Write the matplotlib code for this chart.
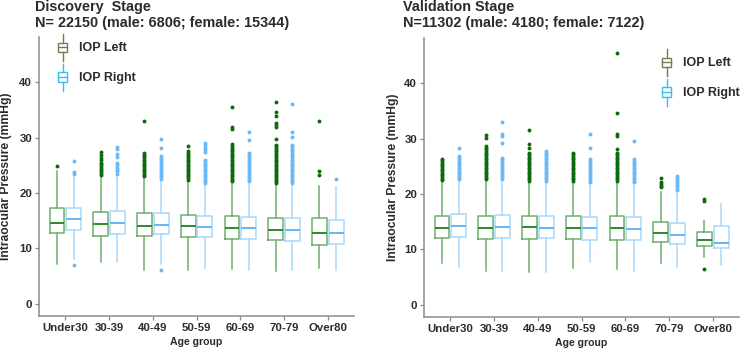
import matplotlib
matplotlib.use("Agg")
import matplotlib.pyplot as plt
from matplotlib.legend_handler import HandlerBase
from matplotlib.patches import Rectangle
from matplotlib.lines import Line2D

plt.rcParams['font.family'] = ['Liberation Sans', 'DejaVu Sans']
plt.rcParams['font.weight'] = 'bold'

age_groups = ['Under30', '30-39', '40-49', '50-59', '60-69', '70-79', 'Over80']

# Discovery stage, box statistics (mmHg)
disc_left_q1 = [12.8, 12.3, 12.2, 12.0, 11.7, 11.4, 10.5]
disc_left_med = [14.5, 14.3, 14.1, 14.0, 13.7, 13.3, 12.8]
disc_left_q3 = [17.3, 16.6, 16.4, 16.1, 15.8, 15.5, 15.4]
disc_left_lo = [7.1, 7.5, 6.0, 6.1, 6.3, 5.8, 6.4]
disc_left_hi = [24.0, 23.0, 22.7, 22.2, 21.9, 21.6, 21.3]
disc_left_out = [
    [24.9],
    [27.4, 26.8, 26.3, 25.9, 25.5, 25.2, 24.8, 24.5, 24.2, 23.9, 23.6, 23.3],
    [33.0, 27.2, 26.9, 26.6, 26.3, 26.0, 25.7, 25.4, 25.1, 24.8, 24.5, 24.2,
     23.9, 23.6, 23.3, 23.0],
    [28.5, 27.5, 27.2, 26.9, 26.6, 26.3, 26.0, 25.7, 25.4, 25.1, 24.8, 24.5,
     24.2, 23.9, 23.6, 23.3, 23.0, 22.7, 22.4],
    [35.5, 32.0, 31.5, 28.9, 28.4, 28.1, 27.8, 27.5, 27.2, 26.9, 26.6, 26.3,
     26.0, 25.7, 25.4, 25.1, 24.8, 24.5, 24.2, 23.9, 23.6, 23.3, 23.0, 22.7,
     22.4, 22.1],
    [36.5, 34.6, 34.0, 32.6, 32.2, 31.9, 29.7, 28.7, 28.4, 28.1, 27.8, 27.5,
     27.2, 26.9, 26.6, 26.3, 26.0, 25.7, 25.4, 25.1, 24.8, 24.5, 24.2, 23.9,
     23.6, 23.3, 23.0, 22.7, 22.4, 22.1, 21.8],
    [33.0, 23.9, 23.3],
]

disc_right_q1 = [13.3, 12.5, 12.5, 12.0, 11.7, 11.3, 10.8]
disc_right_med = [15.3, 14.6, 14.2, 13.9, 13.6, 13.3, 12.7]
disc_right_q3 = [17.3, 16.8, 16.4, 15.8, 15.7, 15.4, 15.1]
disc_right_lo = [8.0, 7.5, 7.2, 6.5, 6.1, 6.0, 6.0]
disc_right_hi = [23.3, 23.0, 22.2, 21.5, 21.7, 21.5, 21.0]
disc_right_out = [
    [25.8, 23.8, 23.5, 6.9],
    [28.3, 27.9, 27.0, 26.5, 25.4, 25.0, 24.6, 24.2, 23.9, 23.5],
    [29.7, 28.1, 26.7, 26.4, 26.1, 25.8, 25.5, 25.2, 24.9, 24.6, 24.3, 24.0,
     23.7, 23.4, 23.1, 22.8, 22.5, 6.0],
    [29.1, 28.6, 28.2, 27.8, 27.4, 26.0, 25.7, 25.4, 25.1, 24.8, 24.5, 24.2,
     23.9, 23.6, 23.3, 23.0, 22.7, 22.4, 22.1, 21.8],
    [31.0, 29.6, 27.2, 26.9, 26.6, 26.3, 26.0, 25.7, 25.4, 25.1, 24.8, 24.5,
     24.2, 23.9, 23.6, 23.3, 23.0, 22.7, 22.4, 22.1],
    [36.0, 31.1, 30.1, 28.7, 28.4, 28.1, 27.8, 27.5, 27.2, 26.9, 26.6, 26.3,
     26.0, 25.7, 25.4, 25.1, 24.8, 24.5, 24.2, 23.9, 23.6, 23.3, 23.0, 22.7,
     22.4, 22.1, 21.8],
    [22.5],
]

# Validation stage, box statistics (mmHg)
val_left_q1 = [12.0, 11.9, 11.9, 11.9, 11.7, 11.4, 10.6]
val_left_med = [13.9, 13.9, 14.0, 13.8, 13.8, 13.0, 11.8]
val_left_q3 = [16.1, 16.1, 16.0, 16.0, 16.0, 15.0, 13.1]
val_left_lo = [7.5, 6.2, 6.0, 6.7, 6.4, 7.5, 8.6]
val_left_hi = [22.2, 22.4, 22.1, 22.1, 22.1, 20.4, 15.1]
val_left_out = [
    [26.4, 26.1, 25.8, 25.5, 25.2, 24.9, 24.6, 24.3, 24.0, 23.7, 23.4, 23.1,
     22.8, 22.5],
    [30.6, 30.2, 28.7, 28.4, 28.1, 27.8, 27.5, 27.2, 26.9, 26.6, 26.3, 26.0,
     25.7, 25.4, 25.1, 24.8, 24.5, 24.2, 23.9, 23.6, 23.3, 23.0, 22.7],
    [31.5, 29.0, 28.4, 27.5, 27.2, 26.9, 26.6, 26.3, 26.0, 25.7, 25.4, 25.1,
     24.8, 24.5, 24.2, 23.9, 23.6, 23.3, 23.0, 22.7, 22.4],
    [27.5, 27.2, 26.9, 26.6, 26.3, 26.0, 25.7, 25.4, 25.1, 24.8, 24.5, 24.2,
     23.9, 23.6, 23.3, 23.0, 22.7, 22.4],
    [45.5, 34.7, 30.8, 30.5, 28.1, 27.5, 27.2, 26.9, 26.6, 26.3, 26.0, 25.7,
     25.4, 25.1, 24.8, 24.5, 24.2, 23.9, 23.6, 23.3, 23.0, 22.7, 22.4],
    [22.9, 22.1, 21.8, 21.5, 21.2],
    [19.1, 18.8, 6.4],
]

val_right_q1 = [12.3, 12.1, 12.0, 11.7, 11.7, 11.0, 10.2]
val_right_med = [14.3, 14.1, 13.9, 13.8, 13.7, 12.7, 11.1]
val_right_q3 = [16.4, 16.3, 16.1, 15.8, 15.8, 14.8, 14.2]
val_right_lo = [6.8, 6.2, 6.0, 7.7, 6.2, 6.9, 7.2]
val_right_hi = [22.4, 22.4, 22.2, 21.8, 21.8, 20.4, 18.2]
val_right_out = [
    [28.3, 26.9, 26.6, 26.3, 26.0, 25.7, 25.4, 25.1, 24.8, 24.5, 24.2, 23.9,
     23.6, 23.3, 23.0, 22.7],
    [33.0, 30.8, 30.5, 29.3, 26.6, 26.3, 26.0, 25.7, 25.4, 25.1, 24.8, 24.5,
     24.2, 23.9, 23.6, 23.3, 23.0, 22.7],
    [27.8, 27.5, 27.2, 26.9, 26.6, 26.3, 26.0, 25.7, 25.4, 25.1, 24.8, 24.5,
     24.2, 23.9, 23.6, 23.3, 23.0, 22.7, 22.4],
    [30.9, 28.4, 26.3, 26.0, 25.7, 25.4, 25.1, 24.8, 24.5, 24.2, 23.9, 23.6,
     23.3, 23.0, 22.7, 22.4, 22.1],
    [29.6, 26.3, 26.0, 25.7, 25.4, 25.1, 24.8, 24.5, 24.2, 23.9, 23.6, 23.3,
     23.0, 22.7, 22.4, 22.1],
    [23.2, 22.9, 22.6, 22.3, 22.0, 21.7, 21.4, 21.1, 20.8],
    [],
]

GREEN_EDGE = '#6fae6f'
GREEN_MED = '#2a8a2a'
GREEN_PT = '#0b6b0b'
BLUE_EDGE = '#a9d7fb'
BLUE_MED = '#62b6fa'
BLUE_PT = '#6cb9f7'
LEG_LEFT = '#737d55'
LEG_RIGHT = '#38bdf5'
AXIS_GRAY = '#8c8c8c'
TEXT_COL = '#2b2b2b'


def make_stats(q1, med, q3, lo, hi, out):
    stats = []
    for i in range(len(q1)):
        stats.append(dict(q1=q1[i], med=med[i], q3=q3[i],
                          whislo=lo[i], whishi=hi[i], fliers=out[i]))
    return stats


def draw_boxes(ax, stats, offset, edge, med, pt):
    positions = [i + 1 + offset for i in range(len(stats))]
    ax.bxp(stats, positions=positions, widths=0.34, showcaps=False,
           boxprops=dict(color=edge, linewidth=1.1),
           whiskerprops=dict(color=edge, linewidth=1.1),
           medianprops=dict(color=med, linewidth=1.4),
           flierprops=dict(marker='o', markerfacecolor=pt,
                           markeredgecolor='none', markersize=2.8))


class BoxHandler(HandlerBase):
    # little boxplot glyph for the legend
    def create_artists(self, legend, orig_handle, xdescent, ydescent,
                       width, height, fontsize, trans):
        c = orig_handle.get_color()
        x0, y0 = -xdescent, -ydescent
        top = height - ydescent
        cx = x0 + width / 2
        span = top - y0
        b0, b1 = y0 + span * 0.32, y0 + span * 0.68
        rect = Rectangle((x0, b0), width, b1 - b0, facecolor='none',
                         edgecolor=c, linewidth=1.0, transform=trans)
        mid = Line2D([x0, x0 + width], [(b0 + b1) / 2] * 2, color=c,
                     linewidth=1.0, transform=trans)
        w1 = Line2D([cx, cx], [y0, b0], color=c, linewidth=1.0, transform=trans)
        w2 = Line2D([cx, cx], [b1, top], color=c, linewidth=1.0,
                    transform=trans)
        return [rect, mid, w1, w2]


def style_axes(ax, ylab_x):
    ax.set_xlim(0.4, 7.6)
    ax.set_ylim(-2.2, 48.2)
    ax.set_yticks([0, 10, 20, 30, 40])
    ax.set_xticks(range(1, 8))
    ax.set_xticklabels(age_groups)
    for s in ['top', 'right']:
        ax.spines[s].set_visible(False)
    for s in ['left', 'bottom']:
        ax.spines[s].set_color(AXIS_GRAY)
        ax.spines[s].set_linewidth(1.1)
    ax.tick_params(axis='both', colors=AXIS_GRAY, length=3, width=0.9,
                   labelsize=8.2, labelcolor=TEXT_COL, pad=2)
    ax.set_ylabel('Intraocular Pressure (mmHg)', fontsize=8.7,
                  fontweight='bold', color=TEXT_COL)
    ax.set_xlabel('Age group', fontsize=7.6, fontweight='bold', color=TEXT_COL)
    ax.yaxis.set_label_coords(ylab_x, 0.5)
    ax.xaxis.set_label_coords(0.5, -0.077)


fig = plt.figure(figsize=(7.42, 3.48), dpi=100)
ax1 = fig.add_axes([39 / 742, 1 - 315.7 / 348, 315 / 742, 278.7 / 348])
ax2 = fig.add_axes([424 / 742, 1 - 317 / 348, 315 / 742, 279 / 348])

draw_boxes(ax1, make_stats(disc_left_q1, disc_left_med, disc_left_q3,
                           disc_left_lo, disc_left_hi, disc_left_out),
           -0.19, GREEN_EDGE, GREEN_MED, GREEN_PT)
draw_boxes(ax1, make_stats(disc_right_q1, disc_right_med, disc_right_q3,
                           disc_right_lo, disc_right_hi, disc_right_out),
           0.19, BLUE_EDGE, BLUE_MED, BLUE_PT)
draw_boxes(ax2, make_stats(val_left_q1, val_left_med, val_left_q3,
                           val_left_lo, val_left_hi, val_left_out),
           -0.19, GREEN_EDGE, GREEN_MED, GREEN_PT)
draw_boxes(ax2, make_stats(val_right_q1, val_right_med, val_right_q3,
                           val_right_lo, val_right_hi, val_right_out),
           0.19, BLUE_EDGE, BLUE_MED, BLUE_PT)

style_axes(ax1, -0.086)
style_axes(ax2, -0.078)

handles = [Line2D([], [], color=LEG_LEFT), Line2D([], [], color=LEG_RIGHT)]
labels = ['IOP Left', 'IOP Right']
for ax, anchor in [(ax1, (58 / 742, 1 - 34 / 348)), (ax2, (662 / 742, 1 - 49 / 348))]:
    ax.legend(handles, labels, handler_map={Line2D: BoxHandler()},
              loc='upper left', bbox_to_anchor=anchor,
              bbox_transform=fig.transFigure, frameon=False,
              borderpad=0, borderaxespad=0, handlelength=0.75,
              handleheight=2.9, handletextpad=0.9, labelspacing=0.26,
              prop=dict(size=9, weight='bold'), labelcolor=TEXT_COL)

fig.text(35 / 742, 1 - 10.5 / 348, 'Discovery  Stage', fontsize=10.4,
         fontweight='bold', color=TEXT_COL, va='baseline')
fig.text(35 / 742, 1 - 27 / 348, 'N= 22150 (male: 6806; female: 15344)',
         fontsize=10.4, fontweight='bold', color=TEXT_COL, va='baseline')
fig.text(403 / 742, 1 - 10.5 / 348, 'Validation Stage', fontsize=10.4,
         fontweight='bold', color=TEXT_COL, va='baseline')
fig.text(403 / 742, 1 - 27 / 348, 'N=11302 (male: 4180; female: 7122)',
         fontsize=10.4, fontweight='bold', color=TEXT_COL, va='baseline')

fig.savefig('out.png', dpi=100)
